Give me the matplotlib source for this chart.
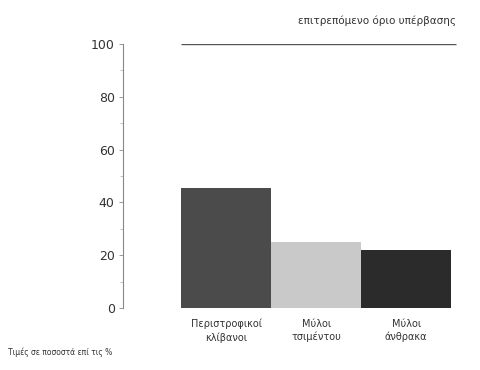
import matplotlib.pyplot as plt
from matplotlib.ticker import MultipleLocator

categories = ['Περιστροφικοί\nκλίβανοι', 'Μύλοι\nτσιμέντου', 'Μύλοι\nάνθρακα']
values = [45.5, 25, 22]
limit = 100
limit_label = 'επιτρεπόμενο όριο υπέρβασης'
note = 'Τιμές σε ποσοστά επί τις %'

colors = ['#4b4b4b', '#c9c9c9', '#2b2b2b']

fig = plt.figure(figsize=(4.81, 3.70), dpi=100)
ax = fig.add_axes([123 / 481, 62 / 370, 337 / 481, 264 / 370])

x = list(range(len(values)))
ax.bar(x, values, width=1.0, color=colors, edgecolor='none')
ax.hlines(limit, -0.5, 2.55, color='#555555', linewidth=1.0)

ax.set_xlim(-1.15, 2.6)
ax.set_ylim(0, 100)
ax.yaxis.set_major_locator(MultipleLocator(20))
ax.yaxis.set_minor_locator(MultipleLocator(10))
ax.tick_params(axis='y', which='major', length=3, width=0.6, colors='#888888',
               labelcolor='#333333', labelsize=9, pad=3)
ax.tick_params(axis='y', which='minor', length=2, width=0.5, colors='#aaaaaa')
ax.set_xticks([])
for s in ['top', 'right', 'bottom']:
    ax.spines[s].set_visible(False)
ax.spines['left'].set_color('#888888')
ax.spines['left'].set_linewidth(0.8)

for xi, lab in zip(x, categories):
    ax.text(xi, -4, lab, ha='center', va='top', fontsize=7, color='#333333',
            linespacing=1.4)

ax.text(2.55, 107, limit_label, ha='right', va='bottom', fontsize=7.5, color='#333333')
fig.text(8 / 481, 1 - 352 / 370, note, ha='left', va='center', fontsize=5.5, color='#333333')

fig.savefig('out.png', dpi=100, facecolor='white')
